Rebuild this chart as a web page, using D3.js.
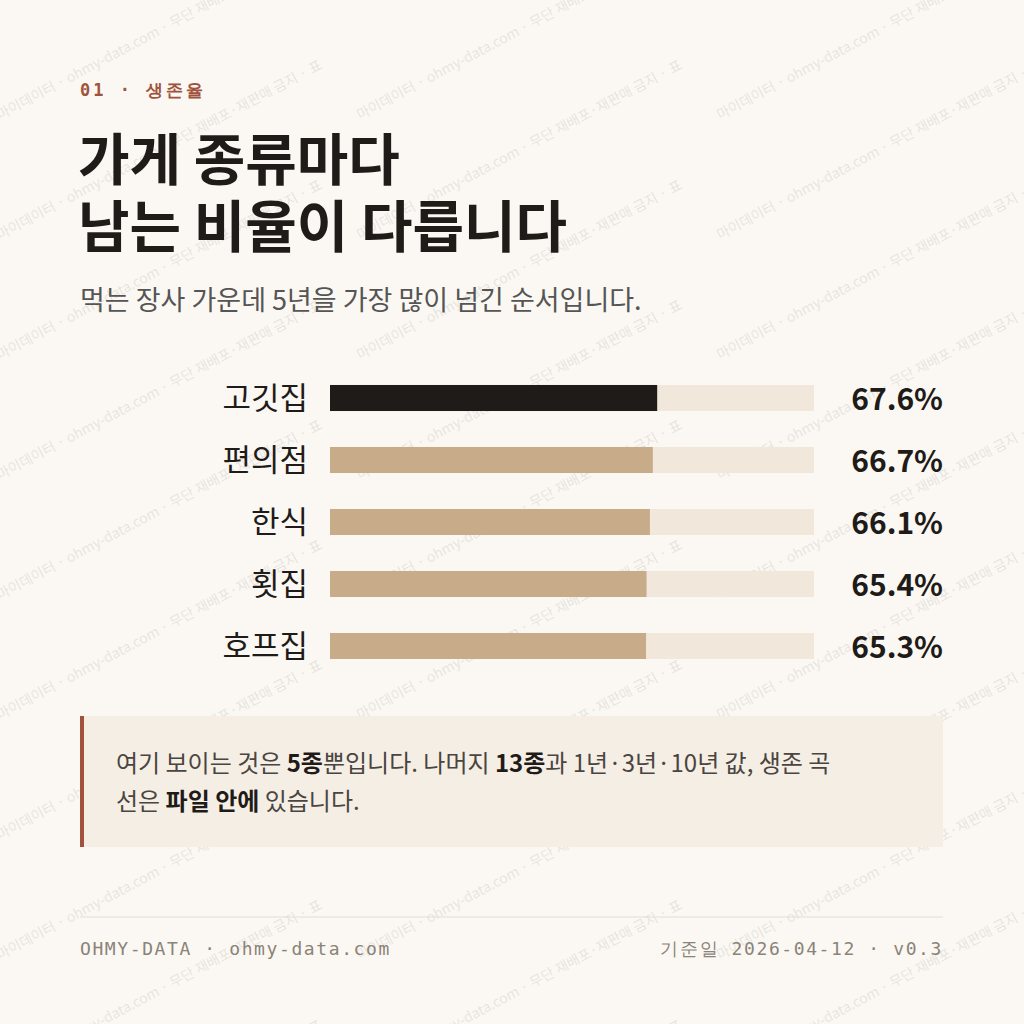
<!DOCTYPE html>
<html>
<head>
<meta charset="utf-8">
<script src="https://cdn.jsdelivr.net/npm/d3@7"></script>
<style>
  body { margin: 0; background: #fbf8f3; }
  svg { display: block; }
  text { font-family: "Noto Sans CJK KR", "Noto Sans", sans-serif; }
  .mono { font-family: "DejaVu Sans Mono", "Liberation Mono", monospace; }
</style>
</head>
<body>
<svg width="1024" height="1024"></svg>
<script>
const categories = ["고깃집", "편의점", "한식", "횟집", "호프집"];
const rates = [67.6, 66.7, 66.1, 65.4, 65.3];
const labels = ["67.6%", "66.7%", "66.1%", "65.4%", "65.3%"];

const svg = d3.select("svg");
svg.append("rect").attr("width", 1024).attr("height", 1024).attr("fill", "#fbf8f3");

// watermark
const wm = "마이데이터 · ohmy-data.com · 무단 재배포·재판매 금지 · 표";
const wg = svg.append("g");
for (let r = -4; r < 12; r++) {
  for (let c = -2; c < 5; c++) {
    wg.append("text")
      .attr("transform", `translate(${c * 360},${r * 120}) rotate(-28)`)
      .attr("font-size", 14)
      .attr("fill", "#000").attr("opacity", 0.08)
      .text(wm);
  }
}

svg.append("text").attr("class", "mono").attr("x", 80).attr("y", 96)
  .attr("font-size", 17).attr("font-weight", "bold").attr("fill", "#a0523d")
  .attr("letter-spacing", 3).text("01 · 생존율");

const title = svg.append("text").attr("font-size", 56).attr("font-weight", "bold").attr("fill", "#1f1b18");
title.append("tspan").attr("x", 78).attr("y", 180).text("가게 종류마다");
title.append("tspan").attr("x", 78).attr("y", 247).text("남는 비율이 다릅니다");

svg.append("text").attr("x", 80).attr("y", 310).attr("font-size", 27).attr("fill", "#555")
  .text("먹는 장사 가운데 5년을 가장 많이 넘긴 순서입니다.");

const x = d3.scaleLinear().domain([0, 100]).range([330, 814]);
const y = d3.scaleBand().domain(categories).range([367, 677]).paddingInner(0.58).paddingOuter(0.29);

const rows = svg.append("g").selectAll("g").data(categories).enter().append("g");
rows.append("rect").attr("x", x(0)).attr("y", d => y(d)).attr("width", x(100) - x(0))
  .attr("height", y.bandwidth()).attr("fill", "#f1e8db");
rows.append("rect").attr("x", x(0)).attr("y", d => y(d))
  .attr("width", (d, i) => x(rates[i]) - x(0)).attr("height", y.bandwidth())
  .attr("fill", (d, i) => i === 0 ? "#1f1b18" : "#c8ac8a");
rows.append("text").attr("x", 308).attr("y", d => y(d) + y.bandwidth() / 2 + 11)
  .attr("text-anchor", "end").attr("font-size", 31).attr("fill", "#1f1b18").text(d => d);
rows.append("text").attr("x", 943).attr("y", d => y(d) + y.bandwidth() / 2 + 12)
  .attr("text-anchor", "end").attr("font-size", 30).attr("font-weight", "bold")
  .attr("fill", "#1f1b18").text((d, i) => labels[i]);

// note box
svg.append("rect").attr("x", 80).attr("y", 716).attr("width", 863).attr("height", 131).attr("fill", "#f5eee5");
svg.append("rect").attr("x", 80).attr("y", 716).attr("width", 4).attr("height", 131).attr("fill", "#a0523d");
const n1 = svg.append("text").attr("x", 116).attr("y", 772).attr("font-size", 24).attr("fill", "#4a4540");
n1.append("tspan").text("여기 보이는 것은 ");
n1.append("tspan").attr("font-weight", "bold").attr("fill", "#1f1b18").text("5종");
n1.append("tspan").text("뿐입니다. 나머지 ");
n1.append("tspan").attr("font-weight", "bold").attr("fill", "#1f1b18").text("13종");
n1.append("tspan").text("과 1년·3년·10년 값, 생존 곡");
const n2 = svg.append("text").attr("x", 116).attr("y", 810).attr("font-size", 24).attr("fill", "#4a4540");
n2.append("tspan").text("선은 ");
n2.append("tspan").attr("font-weight", "bold").attr("fill", "#1f1b18").text("파일 안에");
n2.append("tspan").text(" 있습니다.");

// footer
svg.append("line").attr("x1", 80).attr("x2", 943).attr("y1", 917).attr("y2", 917).attr("stroke", "#e4ddd2");
svg.append("text").attr("class", "mono").attr("x", 80).attr("y", 955).attr("font-size", 18)
  .attr("letter-spacing", 1.6).attr("fill", "#8a8378").text("OHMY-DATA · ohmy-data.com");
svg.append("text").attr("class", "mono").attr("x", 943).attr("y", 955).attr("font-size", 18)
  .attr("letter-spacing", 1.6).attr("text-anchor", "end").attr("fill", "#8a8378").text("기준일 2026-04-12 · v0.3");
</script>
</body>
</html>
